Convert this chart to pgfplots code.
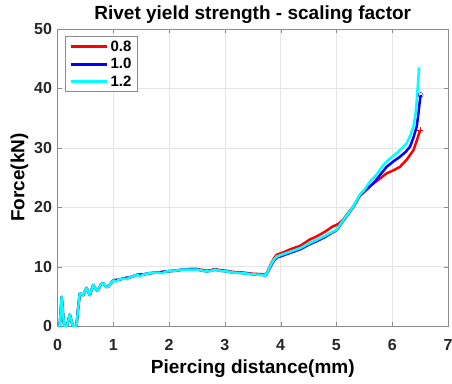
\documentclass[border=0pt]{standalone}
\usepackage{pgfplots}
\pgfplotsset{compat=1.18}
\usepackage{fontspec}
\setmainfont{Liberation Sans}
\definecolor{tickc}{rgb}{0.15,0.15,0.15}
\definecolor{myred}{rgb}{1,0,0}
\definecolor{myblue}{rgb}{0,0,1}
\definecolor{mycyan}{rgb}{0,1,1}
\begin{document}
\begin{tikzpicture}[x=1pt,y=1pt]
\begin{axis}[
  at={(0,0)}, anchor=south west,
  scale only axis, width=390.5pt, height=297pt,
  xmin=0, xmax=7, ymin=0, ymax=50,
  xtick={0,1,...,7}, ytick={0,10,...,50},
  tick align=inside, major tick length=4pt,
  grid=major, major grid style={color=black!10, line width=0.5pt},
  axis line style={color=black!45, line width=0.6pt},
  tick style={color=black!45},
  /pgf/number format/assume math mode=true,
  ticklabel style={font=\bfseries\fontsize{16}{17}\selectfont, text=tickc},
  xticklabel style={yshift=-10pt},
  yticklabel style={xshift=-2pt},
  title={\bfseries\fontsize{19}{20}\selectfont Rivet yield strength - scaling factor},
  title style={yshift=-4pt},
  xlabel={\bfseries\fontsize{19}{20}\selectfont Piercing distance(mm)},
  ylabel={\bfseries\fontsize{19}{20}\selectfont Force(kN)},
  xlabel style={yshift=-2pt},
  ylabel style={yshift=-1pt},
  legend style={at={(0.02,0.975)}, anchor=north west, draw=black!45, font=\bfseries\fontsize{15}{16}\selectfont, row sep=1.5pt, inner xsep=4pt, inner ysep=2pt},
  legend cell align=left,
  legend image code/.code={\draw[#1, line width=3pt] (0pt,0pt) -- (36pt,0pt);},
]
% red 0.8
\addplot[myred, line width=2.5pt, line join=round] coordinates {
(0,0) (0.04,0) (0.075,4.9) (0.10,2) (0.12,0) (0.17,0) (0.22,1.9) (0.26,0.5) (0.28,0) (0.34,0) (0.37,3) (0.40,5.5) (0.46,5.2) (0.52,6.4) (0.58,5.2) (0.64,6.9) (0.70,6.0) (0.73,6.1) (0.78,7.0) (0.82,7.2) (0.87,6.6) (0.91,6.6) (1.0,7.7) (1.1,7.8) (1.18,8.0) (1.3,8.2) (1.42,8.6) (1.55,8.7) (1.66,8.9) (1.8,9.0) (1.96,9.2) (2.1,9.3) (2.25,9.5) (2.37,9.6) (2.5,9.6) (2.67,9.3) (2.75,9.4) (2.82,9.6) (2.92,9.4) (3.03,9.3) (3.15,9.1) (3.33,9.0) (3.5,8.8) (3.69,8.7) (3.72,8.5) (3.77,9.3) (3.83,10.5) (3.88,11.4) (3.93,12.0) (4.05,12.4) (4.17,12.9) (4.35,13.5) (4.53,14.6) (4.65,15.1) (4.8,15.9) (4.94,16.8) (5.0,17.0) (5.05,17.3) (5.12,17.9) (5.2,18.9) (5.30,20.1) (5.42,21.9) (5.55,23.0) (5.66,24.0) (5.78,24.8) (5.90,25.7) (6.02,26.2) (6.14,26.8) (6.26,28.0) (6.38,29.6) (6.44,31.2) (6.50,33.0)
};
\addlegendentry{0.8}
% blue 1.0
\addplot[myblue, line width=2.5pt, line join=round] coordinates {
(0,0) (0.04,0) (0.075,4.9) (0.10,2) (0.12,0) (0.17,0) (0.22,1.9) (0.26,0.5) (0.28,0) (0.34,0) (0.37,3) (0.40,5.5) (0.46,5.2) (0.52,6.4) (0.58,5.2) (0.64,6.9) (0.70,6.0) (0.73,6.1) (0.78,7.0) (0.82,7.2) (0.87,6.6) (0.91,6.6) (1.0,7.7) (1.1,7.8) (1.18,8.0) (1.3,8.2) (1.42,8.6) (1.55,8.7) (1.66,8.9) (1.8,9.0) (1.96,9.2) (2.1,9.3) (2.25,9.5) (2.37,9.5) (2.5,9.5) (2.67,9.2) (2.75,9.3) (2.82,9.5) (2.92,9.3) (3.03,9.2) (3.15,9.0) (3.33,8.9) (3.5,8.7) (3.69,8.6) (3.72,8.4) (3.77,9.1) (3.83,10.2) (3.88,11.0) (3.93,11.5) (4.05,11.9) (4.17,12.3) (4.35,12.9) (4.53,13.8) (4.65,14.3) (4.8,15.0) (4.94,15.8) (5.0,16.1) (5.06,16.9) (5.12,17.7) (5.2,18.7) (5.30,20.0) (5.42,22.0) (5.5,22.8) (5.66,24.0) (5.78,25.4) (5.90,26.8) (6.02,27.7) (6.14,28.5) (6.24,29.3) (6.32,30.2) (6.38,31.7) (6.44,33.6) (6.47,35.8) (6.49,37.5) (6.51,38.9)
};
\addlegendentry{1.0}
% cyan 1.2
\addplot[mycyan, line width=2.5pt, line join=round] coordinates {
(0,0) (0.04,0) (0.075,4.9) (0.10,2) (0.12,0) (0.17,0) (0.22,1.9) (0.26,0.5) (0.28,0) (0.34,0) (0.37,3) (0.40,5.5) (0.46,5.2) (0.52,6.4) (0.58,5.2) (0.64,6.9) (0.70,6.0) (0.73,6.1) (0.78,7.0) (0.82,7.2) (0.87,6.6) (0.91,6.6) (1.0,7.7) (1.05,7.5) (1.1,7.8) (1.18,8.0) (1.24,7.9) (1.3,8.2) (1.42,8.6) (1.48,8.4) (1.55,8.7) (1.66,8.9) (1.8,9.0) (1.88,8.9) (1.96,9.2) (2.1,9.3) (2.25,9.5) (2.37,9.5) (2.5,9.5) (2.67,9.2) (2.75,9.3) (2.82,9.5) (2.92,9.3) (3.03,9.2) (3.15,9.0) (3.33,8.9) (3.5,8.7) (3.69,8.6) (3.72,8.4) (3.77,9.2) (3.83,10.4) (3.88,11.2) (3.93,11.7) (4.05,12.1) (4.17,12.5) (4.35,13.1) (4.53,14.0) (4.65,14.5) (4.8,15.2) (4.94,15.9) (5.0,16.2) (5.06,17.0) (5.12,17.8) (5.2,18.8) (5.30,20.1) (5.42,22.1) (5.5,22.9) (5.6,24.3) (5.72,25.5) (5.84,27.1) (5.95,28.1) (6.08,29.1) (6.18,30.0) (6.26,30.8) (6.33,32.2) (6.38,33.6) (6.42,35.8) (6.44,38.0) (6.46,40.5) (6.48,43.4)
};
\addlegendentry{1.2}
\addplot[myred, only marks, mark=+, mark size=3pt, forget plot] coordinates {(6.50,33.0)};
\addplot[myblue, only marks, mark=o, mark size=2.5pt, forget plot] coordinates {(6.51,38.9)};
\addplot[mycyan, only marks, mark=x, mark size=2.5pt, forget plot] coordinates {(6.48,43.4)};
\end{axis}
\pgfresetboundingbox
\useasboundingbox (-57.5pt,-57pt) rectangle (394.5pt,326pt);
\end{tikzpicture}
\end{document}
